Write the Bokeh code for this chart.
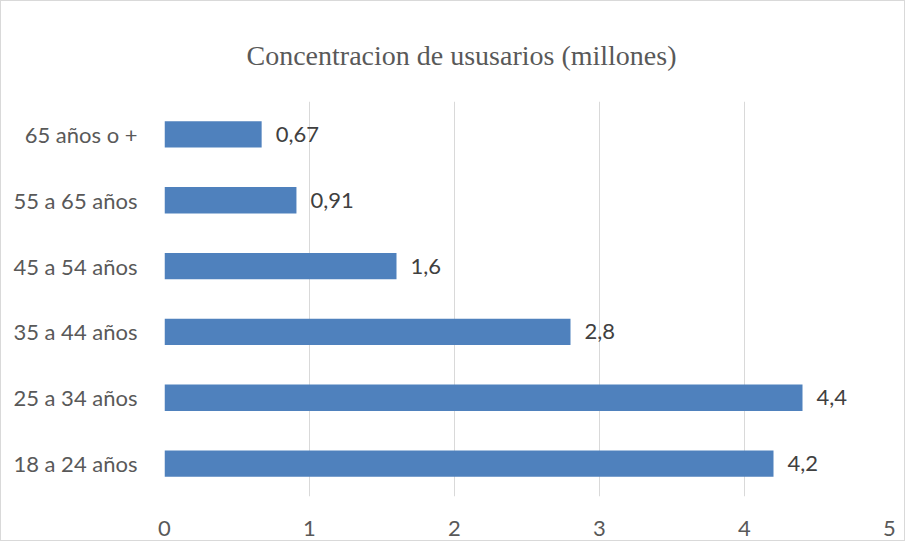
from bokeh.plotting import figure
from bokeh.models import ColumnDataSource, Range1d, FactorRange, FixedTicker, Title
from bokeh.core.properties import value
from bokeh.embed import file_html
from bokeh.resources import INLINE

categories = ["18 a 24 años", "25 a 34 años", "35 a 44 años", "45 a 54 años", "55 a 65 años", "65 años o +"]
values = [4.2, 4.4, 2.8, 1.6, 0.91, 0.67]
labels = ["4,2", "4,4", "2,8", "1,6", "0,91", "0,67"]
x_ticks = [0, 1, 2, 3, 4, 5]
title_text = "Concentracion de ususarios (millones)"

source = ColumnDataSource(dict(cat=categories, val=values, lab=labels))

p = figure(width=905, height=541, output_backend="svg", toolbar_location=None,
           y_range=FactorRange(factors=categories, range_padding=0),
           x_range=Range1d(0, 5),
           min_border_left=163, min_border_right=17, min_border_top=100, min_border_bottom=46)

p.hbar(y="cat", right="val", left=0, height=0.4, source=source, color="#4f81bd", line_color=None)
p.text(x="val", y="cat", text="lab", source=source, x_offset=14, text_baseline="middle",
       text_align="left", text_font=value("Lato"), text_font_size="22px", text_color="#404040")

t = Title(text=title_text, text_font="Liberation Serif", text_font_size="28px",
          text_font_style="normal", text_color="#595959", align="left", offset=82, standoff=62)
p.add_layout(t, "above")

p.xaxis.ticker = FixedTicker(ticks=x_ticks)
for ax in (p.xaxis[0], p.yaxis[0]):
    ax.axis_line_color = None
    ax.major_tick_line_color = None
    ax.minor_tick_line_color = None
    ax.major_label_text_font = "Lato"
    ax.major_label_text_font_size = "22px"
    ax.major_label_text_color = "#595959"
p.xaxis.major_label_standoff = 18
p.yaxis.major_label_standoff = 21

p.xgrid.ticker = FixedTicker(ticks=x_ticks)
p.xgrid.grid_line_color = "#d9d9d9"
p.xgrid.grid_line_width = 1
p.ygrid.grid_line_color = None
p.outline_line_color = None
p.styles = {"border": "1px solid #d9d9d9"}

open("out.html", "w").write(file_html(p, INLINE))
